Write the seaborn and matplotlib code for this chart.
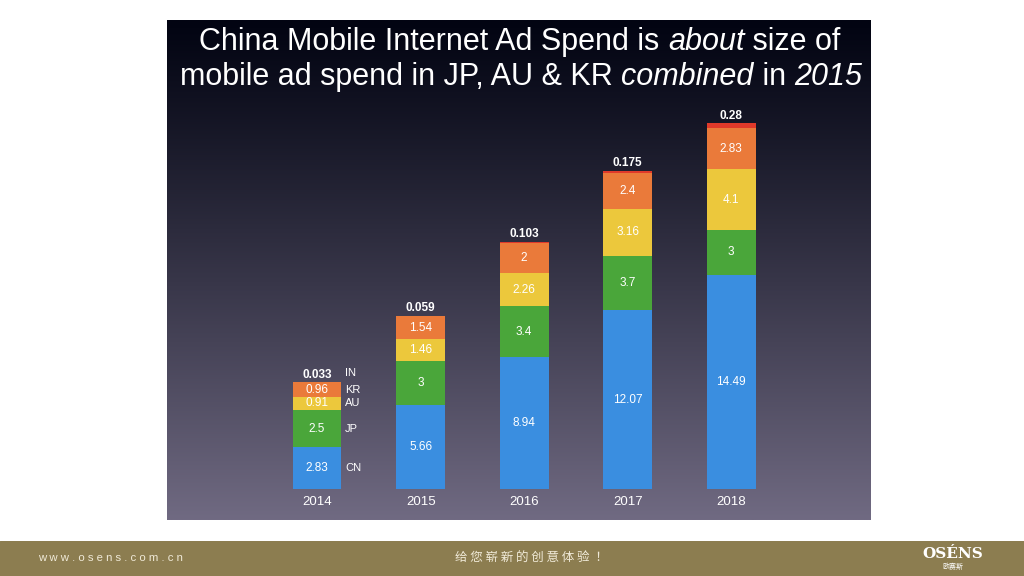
import numpy as np
import matplotlib
matplotlib.use("Agg")
import matplotlib.pyplot as plt
import seaborn as sns

plt.rcParams["font.family"] = ["Liberation Sans", "Noto Sans CJK SC", "Noto Sans CJK JP", "DejaVu Sans"]

years = ["2014", "2015", "2016", "2017", "2018"]
CN = [2.83, 5.66, 8.94, 12.07, 14.49]
JP = [2.5, 3, 3.4, 3.7, 3]
AU = [0.91, 1.46, 2.26, 3.16, 4.1]
KR = [0.96, 1.54, 2, 2.4, 2.83]
IN = [0.033, 0.059, 0.103, 0.175, 0.28]
series = [("CN", CN, "#3a8ee0"), ("JP", JP, "#4aa63a"), ("AU", AU, "#ecc83c"),
          ("KR", KR, "#ea7a3a"), ("IN", IN, "#e0392a")]

fig = plt.figure(figsize=(10.24, 5.76), dpi=100, facecolor="white")
fb = fig.add_axes([0, 0, 1, 35/576]); fb.axis("off")
fb.add_patch(plt.Rectangle((0, 0), 1, 1, color="#8c7d50", transform=fb.transAxes))
fig.text(38/1024, 18/576, "w w w . o s e n s . c o m . c n", color="#f0ead8", fontsize=8.2, va="center")
fig.text(530/1024, 18/576, "给 您 崭 新 的 创 意 体 验 ！", color="#f0ead8", fontsize=9, va="center", ha="center",
         family=["Noto Sans CJK SC", "Noto Sans CJK JP", "Noto Sans CJK TC"])
fig.text(953/1024, 22/576, "OSÉNS", color="white", fontsize=11, weight="bold", va="center", ha="center", family="DejaVu Serif")
fig.text(953/1024, 9/576, "欧赛斯", color="white", fontsize=5, va="center", ha="center",
         family=["Noto Sans CJK SC", "Noto Sans CJK JP"])

ax = fig.add_axes([167/1024, 56/576, 704/1024, 500/576])
x0, x1 = -1.45, 5.35
y0, y1 = -31/14.8, (489-20)/14.8
grad = np.linspace(0, 1, 256)[:, None]
top = np.array([2, 4, 18]) / 255; bot = np.array([112, 106, 130]) / 255
img = top + (bot - top) * grad[..., None] ** 1.1
ax.imshow(np.repeat(img, 2, axis=1), extent=[x0, x1, y0, y1], aspect="auto", zorder=0, origin="upper")
ax.set_xlim(x0, x1); ax.set_ylim(y0, y1); ax.axis("off")

bottom = np.zeros(5)
for name, vals, col in series:
    ax.bar(range(5), vals, bottom=bottom, width=0.47, color=col, zorder=2)
    for i, v in enumerate(vals):
        if name != "IN":
            ax.text(i, bottom[i] + v/2, f"{v:g}", color="white", ha="center", va="center", fontsize=8.5, zorder=3)
        else:
            ax.text(i, bottom[i] + v + 0.5, f"{v:g}", color="white", ha="center", va="center", fontsize=8.5, weight="bold", zorder=3)
    if name == "IN":
        ax.text(0.27, bottom[0] + vals[0] + 0.6, "IN", color="white", fontsize=8, va="center", zorder=3)
    else:
        ax.text(0.27, bottom[0] + vals[0]/2, name, color="white", fontsize=8, va="center", zorder=3)
    bottom += np.array(vals)
sns.despine(ax=ax, left=True, bottom=True)
for i, y in enumerate(years):
    ax.text(i, -0.9, y, color="white", ha="center", va="center", fontsize=9.5)

# title with mixed italic segments
renderer = fig.canvas.get_renderer()
def line(parts, xc, yc, fs=22):
    objs = []
    for s, it in parts:
        objs.append(fig.text(0, yc, s, color="white", fontsize=fs, va="center",
                             style="italic" if it else "normal"))
    widths = [o.get_window_extent(renderer).width for o in objs]
    x = xc * 1024 - sum(widths) / 2
    for o, w in zip(objs, widths):
        o.set_x(x / 1024); x += w
line([("China Mobile Internet Ad Spend is ", 0), ("about", 1), (" size of", 0)], 520/1024, 534/576)
line([("mobile ad spend in JP, AU & KR ", 0), ("combined", 1), (" in ", 0), ("2015", 1)], 521/1024, 499/576)
fig.savefig("out.png", dpi=100, facecolor="white")
